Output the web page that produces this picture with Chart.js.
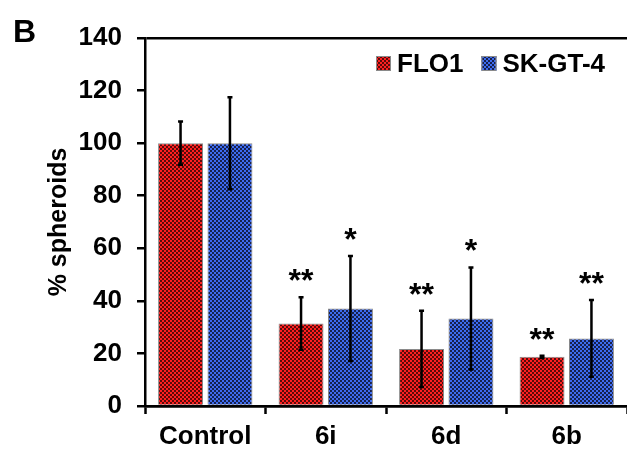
<!DOCTYPE html>
<html>
<head>
<meta charset="utf-8">
<script src="https://cdn.jsdelivr.net/npm/chart.js@4"></script>
<style>
  html, body { margin: 0; padding: 0; background: #fff; }
  canvas { display: block; }
</style>
</head>
<body>
<canvas id="spheroids" width="627" height="450"></canvas>
<script>
// values (% spheroids, mean and error)
const categories = ['Control', '6i', '6d', '6b'];
const flo1 = [100, 31.4, 21.7, 18.7];
const flo1Err = [8.2, 10, 14.5, 0.4];
const skgt4 = [100, 37.1, 33.3, 25.7];
const skgt4Err = [17.5, 20, 19.4, 14.6];
const flo1Stars = ['', '**', '**', '**'];
const skgt4Stars = ['', '*', '*', '**'];
const yTicks = [0, 20, 40, 60, 80, 100, 120, 140];

const FONT = '"Liberation Sans", Arial, sans-serif';

function checker(light, dark) {
    let c = document.createElement('canvas');
    c.width = 4; c.height = 4;
    let g = c.getContext('2d');
    g.fillStyle = light;
    g.fillRect(0, 0, 4, 4);
    g.fillStyle = dark;
    g.fillRect(0, 0, 2, 2);
    g.fillRect(2, 2, 2, 2);
    return g.createPattern(c, 'repeat');
}

const ctx = document.getElementById('spheroids').getContext('2d');
const redFill = checker('#ff2020', '#5a0a0a');
const blueFill = checker('#3d6cf0', '#16204e');

// error bars, significance stars, legend and the panel letter
const extras = {
    id: 'extras',
    afterDatasetsDraw(chart) {
        let c = chart.ctx;
        let y = chart.scales.y;
        let errs = [flo1Err, skgt4Err];
        let stars = [flo1Stars, skgt4Stars];
        c.save();
        chart.data.datasets.forEach((ds, i) => {
            chart.getDatasetMeta(i).data.forEach((bar, j) => {
                let v = ds.data[j];
                let top = y.getPixelForValue(v + errs[i][j]);
                let bot = y.getPixelForValue(v - errs[i][j]);
                c.strokeStyle = '#000';
                c.lineWidth = 2.5;
                c.beginPath();
                c.moveTo(bar.x, top); c.lineTo(bar.x, bot);
                c.moveTo(bar.x - 2.5, top); c.lineTo(bar.x + 2.5, top);
                c.moveTo(bar.x - 2.5, bot); c.lineTo(bar.x + 2.5, bot);
                c.stroke();
                if (stars[i][j]) {
                    c.fillStyle = '#000';
                    c.font = 'bold 32px ' + FONT;
                    c.textAlign = 'center';
                    c.textBaseline = 'alphabetic';
                    c.fillText(stars[i][j], bar.x, top - 6);
                }
            });
        });

        // legend, top right inside the plot
        c.font = 'bold 26px ' + FONT;
        c.textAlign = 'left';
        c.textBaseline = 'alphabetic';
        let lx = 376;
        chart.data.datasets.forEach((ds) => {
            c.fillStyle = ds.backgroundColor;
            c.fillRect(lx, 56, 15, 15);
            c.strokeStyle = '#8a8a8a';
            c.lineWidth = 1;
            c.strokeRect(lx + 0.5, 56.5, 14, 14);
            c.fillStyle = '#000';
            c.fillText(ds.label, lx + 21, 72);
            lx += 21 + c.measureText(ds.label).width + 18;
        });

        c.font = 'bold 32px ' + FONT;
        c.fillText('B', 13, 42);
        c.restore();
    }
};

const chart = new Chart(ctx, {
    type: 'bar',
    data: {
        labels: categories,
        datasets: [
            { label: 'FLO1', data: flo1, backgroundColor: redFill, borderColor: '#8a8a8a', borderWidth: 1 },
            { label: 'SK-GT-4', data: skgt4, backgroundColor: blueFill, borderColor: '#8a8a8a', borderWidth: 1 },
        ],
    },
    options: {
        responsive: false,
        animation: false,
        devicePixelRatio: 1,
        categoryPercentage: 0.82,
        barPercentage: 0.91,
        layout: { padding: { top: 38, right: 0, left: 0, bottom: 0 } },
        scales: {
            x: {
                offset: true,
                grid: { offset: true, drawOnChartArea: false, tickLength: 8, tickColor: '#000', tickWidth: 2.5 },
                border: { color: '#000', width: 2.5 },
                ticks: { color: '#000', font: { family: FONT, size: 26, weight: 'bold' }, padding: 7 },
                afterFit: (s) => { s.height = 44; },
            },
            y: {
                min: 0,
                max: 140,
                afterBuildTicks: (s) => { s.ticks = yTicks.map(v => ({ value: v })); },
                grid: {
                    color: (c) => (c.tick && (c.tick.value === 0 || c.tick.value === 140)) ? '#000' : 'rgba(0,0,0,0)',
                    lineWidth: 2.5,
                    tickLength: 8, tickColor: '#000', tickWidth: 2.5,
                },
                border: { color: '#000', width: 2.5 },
                ticks: { color: '#000', font: { family: FONT, size: 26, weight: 'bold' }, padding: 15 },
                title: {
                    display: true, text: '% spheroids', color: '#000',
                    font: { family: FONT, size: 25, weight: 'bold' },
                    padding: { top: 44, bottom: 0 },
                },
                afterFit: (s) => { s.width = 145; },
            },
        },
        plugins: {
            legend: { display: false },
            tooltip: { enabled: false },
        },
    },
    plugins: [extras],
});
</script>
</body>
</html>
